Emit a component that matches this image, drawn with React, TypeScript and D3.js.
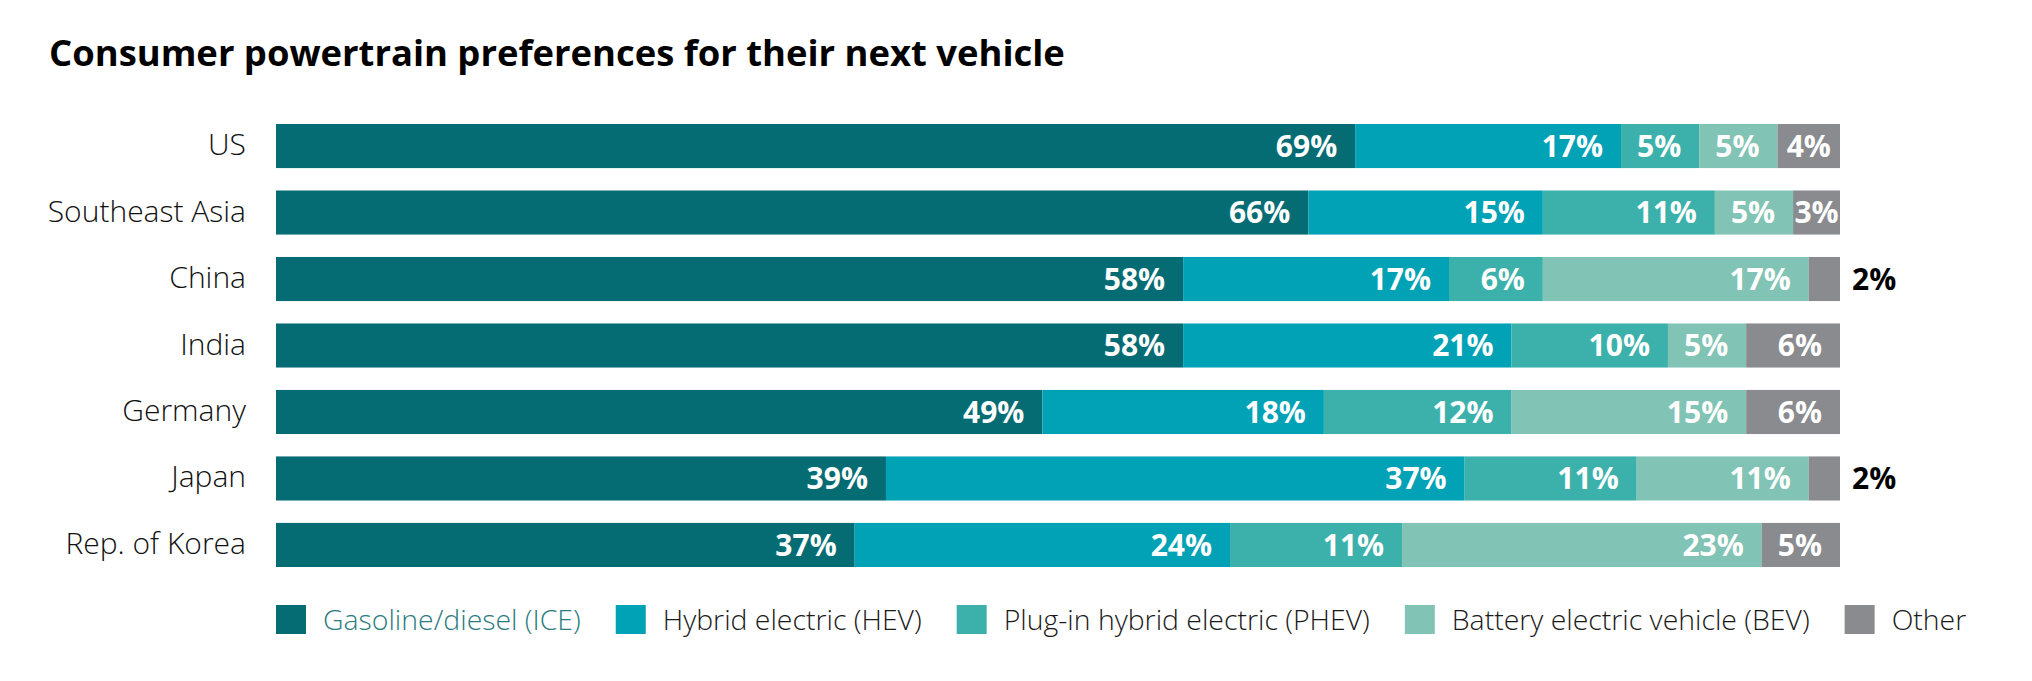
import * as React from 'react';
import * as d3 from 'd3';

const countries = ['US', 'Southeast Asia', 'China', 'India', 'Germany', 'Japan', 'Rep. of Korea'];
const seriesNames = [
    'Gasoline/diesel (ICE)',
    'Hybrid electric (HEV)',
    'Plug-in hybrid electric (PHEV)',
    'Battery electric vehicle (BEV)',
    'Other'
];
const iceValues = [69, 66, 58, 58, 49, 39, 37];
const hevValues = [17, 15, 17, 21, 18, 37, 24];
const phevValues = [5, 11, 6, 10, 12, 11, 11];
const bevValues = [5, 5, 17, 5, 15, 11, 23];
const otherValues = [4, 3, 2, 6, 6, 2, 5];

const seriesColors = ['#066c74', '#01a2b5', '#3cb1ab', '#81c3b4', '#898b8f'];
const legendTextColors = ['#2b7b80', '#1a1a1a', '#1a1a1a', '#1a1a1a', '#1a1a1a'];

const W = 2032;
const H = 681;
const margins = { left: 276, right: 192, top: 124, bottom: 114 };

const FONT = '"Open Sans", "Noto Sans", sans-serif';

export default function App() {
    const legendRef = React.useRef<SVGGElement | null>(null);

    React.useLayoutEffect(() => {
        document.body.style.margin = '0';
        // lay out legend items one after another using real text widths
        const g = d3.select(legendRef.current);
        let x = margins.left;
        g.selectAll<SVGGElement, string>('g.item').each(function () {
            const item = d3.select(this);
            item.attr('transform', `translate(${x},0)`);
            const t = item.select<SVGTextElement>('text').node();
            const w = t ? t.getComputedTextLength() : 0;
            x += 30 + 17 + w + 35;
        });
    }, []);

    const rows = countries.map((c, i) => ({
        country: c,
        values: [iceValues[i], hevValues[i], phevValues[i], bevValues[i], otherValues[i]]
    }));

    const xScale = d3.scaleLinear().domain([0, 100]).range([margins.left, W - margins.right]);
    const yScale = d3.scaleBand<string>()
        .domain(countries)
        .range([margins.top, H - margins.bottom])
        .paddingInner(0.337)
        .paddingOuter(0);

    const stackGen = d3.stack<any, number>()
        .keys(d3.range(5))
        .value((d, k) => d.values[k]);
    const stacked = stackGen(rows);

    return (
        <svg width={W} height={H} style={{ display: 'block', background: '#fff' }} fontFamily={FONT}>
            <text x={49} y={66} fontSize={36.4} fontWeight={700} fill="#000">
                Consumer powertrain preferences for their next vehicle
            </text>

            <g className="y-labels">
                {countries.map(c => (
                    <text key={c} x={246} y={(yScale(c) || 0) + yScale.bandwidth() / 2}
                        dy="0.3em" textAnchor="end" fontSize={30} fontWeight={300} fill="#111">
                        {c}
                    </text>
                ))}
            </g>

            {stacked.map((layer, k) => (
                <g key={k} className="series">
                    {layer.map((seg, i) => {
                        const x0 = xScale(seg[0]);
                        const x1 = xScale(seg[1]);
                        const y = yScale(countries[i]) || 0;
                        return (
                            <rect key={i} x={x0} y={y} width={x1 - x0}
                                height={yScale.bandwidth()} fill={seriesColors[k]} />
                        );
                    })}
                </g>
            ))}

            {stacked.map((layer, k) => (
                <g key={'l' + k} className="labels">
                    {layer.map((seg, i) => {
                        const v = seg[1] - seg[0];
                        const x0 = xScale(seg[0]);
                        const x1 = xScale(seg[1]);
                        const cy = (yScale(countries[i]) || 0) + yScale.bandwidth() / 2;
                        if (v <= 2) {
                            return (
                                <text key={i} x={xScale(100) + 12} y={cy} dy="0.36em"
                                    fontSize={30} fontWeight={700} fill="#000">{v}%</text>
                            );
                        }
                        const labelW = String(v).length * 17 + 26;
                        const fits = x1 - x0 >= labelW + 30;
                        return (
                            <text key={i} x={fits ? x1 - 18 : (x0 + x1) / 2} y={cy} dy="0.36em"
                                textAnchor={fits ? 'end' : 'middle'}
                                fontSize={30} fontWeight={700} fill="#fff">{v}%</text>
                        );
                    })}
                </g>
            ))}

            <g ref={legendRef} className="legend" transform="translate(0,605)">
                {seriesNames.map((s, k) => (
                    <g key={s} className="item">
                        <rect x={0} y={0} width={30} height={29} fill={seriesColors[k]} />
                        <text x={47} y={15} dy="0.36em" fontSize={28.4} fontWeight={300}
                            fill={legendTextColors[k]}>{s}</text>
                    </g>
                ))}
            </g>
        </svg>
    );
}
